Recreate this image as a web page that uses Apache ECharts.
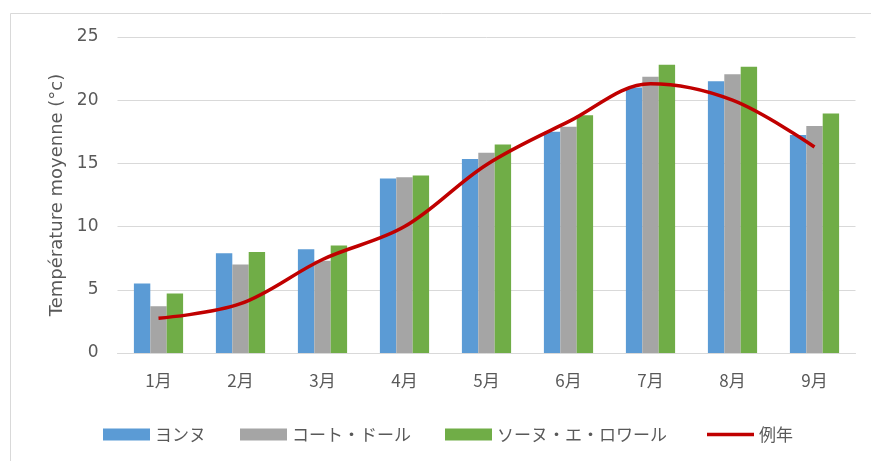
<!DOCTYPE html>
<html>
<head>
<meta charset="utf-8">
<script src="https://cdn.jsdelivr.net/npm/echarts@6/dist/echarts.min.js"></script>
<style>
html,body{margin:0;padding:0;background:#fff;}
#chart{width:871px;height:461px;}
</style>
</head>
<body>
<div id="chart"></div>
<script>
const categories = ['1月','2月','3月','4月','5月','6月','7月','8月','9月'];
const yonne = [5.5, 7.9, 8.2, 13.8, 15.35, 17.5, 21.0, 21.5, 17.25];
const coteDor = [3.7, 7.0, 7.3, 13.9, 15.85, 17.9, 21.85, 22.05, 17.95];
const saoneEtLoire = [4.7, 8.0, 8.5, 14.05, 16.5, 18.8, 22.8, 22.65, 18.95];
const normal = [2.75, 3.9, 7.4, 10.0, 14.9, 18.3, 21.3, 20.0, 16.3];
const seriesNames = ['ヨンヌ','コート・ドール','ソーヌ・エ・ロワール','例年'];
const yTicks = [0, 5, 10, 15, 20, 25];

const chart = echarts.init(document.getElementById('chart'), null, {renderer:'canvas'});
const txt = '#595959';
const fontJP = '"Noto Sans CJK JP", "Noto Sans", sans-serif';
const legendLeft = [98, 235, 440, 702];
const legends = seriesNames.map((n, i) => ({
  left: legendLeft[i], top: 421, itemWidth: 47, itemHeight: 12,
  textStyle: {color: txt, fontSize: 17, fontFamily: fontJP},
  data: [{name: n, icon: i === 3 ? 'path://M0,0 L47,0 L47,3.5 L0,3.5 Z' : 'rect'}]
}));
chart.setOption({
  animation: false,
  backgroundColor: '#fff',
  graphic: [{
    type: 'rect', left: 8, top: 11, silent: true,
    shape: {width: 880, height: 470},
    style: {fill: 'none', stroke: '#D9D9D9', lineWidth: 1}
  }],
  grid: {left: 117.5, right: 15.5, top: 37, bottom: 108, outerBoundsMode: 'none'},
  legend: legends,
  xAxis: {
    type: 'category', data: categories,
    axisLine: {lineStyle: {color: '#D9D9D9', width: 1}},
    axisTick: {show: false},
    axisLabel: {color: txt, fontSize: 17, fontFamily: fontJP, margin: 19}
  },
  yAxis: {
    type: 'value', min: yTicks[0], max: yTicks[yTicks.length-1], interval: 5,
    name: 'Température moyenne (°c)', nameLocation: 'middle', nameRotate: 90, nameGap: 51,
    nameTextStyle: {color: txt, fontSize: 18, fontFamily: '"DejaVu Sans", sans-serif'},
    axisLine: {show: false}, axisTick: {show: false},
    axisLabel: {color: txt, fontSize: 17, fontFamily: '"DejaVu Sans", sans-serif', margin: 19},
    splitLine: {lineStyle: {color: '#D9D9D9', width: 1}}
  },
  series: [
    {name: seriesNames[0], type: 'bar', data: yonne, itemStyle: {color: '#5B9BD5'}, barGap: '0%', barCategoryGap: '40%'},
    {name: seriesNames[1], type: 'bar', data: coteDor, itemStyle: {color: '#A5A5A5'}, barGap: '0%', barCategoryGap: '40%'},
    {name: seriesNames[2], type: 'bar', data: saoneEtLoire, itemStyle: {color: '#70AD47'}, barGap: '0%', barCategoryGap: '40%'},
    {name: seriesNames[3], type: 'line', data: normal, smooth: 0.35, symbol: 'none',
     lineStyle: {color: '#C00000', width: 3.5}, itemStyle: {color: '#C00000'}, z: 5}
  ]
});
</script>
</body>
</html>
